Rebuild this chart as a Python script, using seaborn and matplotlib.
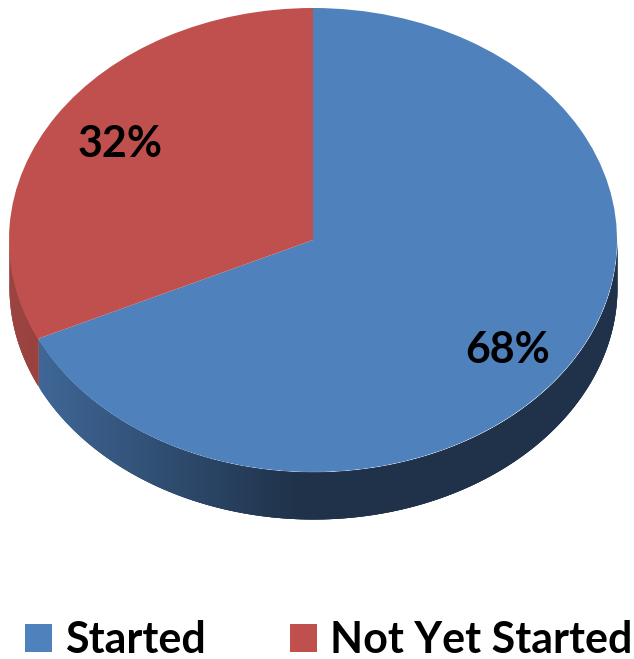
import matplotlib.pyplot as plt
import numpy as np
import seaborn as sns
from matplotlib.colors import to_rgb

sns.set_theme(style="white")
plt.rcParams["font.family"] = ["Lato", "DejaVu Sans"]

categories = ["Started", "Not Yet Started"]
values = [68, 32]
colors = ["#4F81BD", "#C0504D"]
label_offsets = [(-0.01, -0.06), (0.015, 0.0)]

W, H = 634, 659
CX, CY, RX, RY, DEPTH = 313, 240, 304, 232, 47


def side_shade(base, frac):
    # darkest towards the middle front, lighter at the left edge
    dark = np.array(to_rgb(base)) * 0.39
    light = np.array(to_rgb(base)) * 0.8
    return tuple(light + (dark - light) * min(frac, 1.0))


fig = plt.figure(figsize=(W / 100, H / 100), dpi=100)
ax = fig.add_axes([0, 0, 1, 1])

wedges, _, autotexts = ax.pie(
    values,
    colors=colors,
    startangle=90,
    counterclock=False,
    autopct="%d%%",
    pctdistance=0.77,
    textprops={"fontsize": 31, "fontweight": "bold", "color": "black"},
    wedgeprops={"zorder": 3, "linewidth": 0},
)
ax.set_aspect("auto")
ax.set_xlim(-CX / RX, (W - CX) / RX)
ax.set_ylim((CY - H) / RY, CY / RY)
ax.axis("off")

for t, (dx, dy) in zip(autotexts, label_offsets):
    x, y = t.get_position()
    t.set_position((x + dx, y + dy))
    t.set_zorder(5)

# side wall of the disc, strips overlap a little so no seams show
depth = DEPTH / RY
for wedge, color in zip(wedges, colors):
    a0, a1 = max(wedge.theta1, -180), min(wedge.theta2, 0)
    angles = np.radians(np.linspace(a0, a1, 300))
    for i in range(len(angles) - 1):
        seg = angles[i : i + 4]
        xs = np.cos(seg)
        ys = np.sin(seg)
        frac = (np.cos(seg[0]) + 0.91) / 0.85
        shade = side_shade(color, max(frac, 0.0))
        ax.fill_between(xs, ys, ys - depth, color=shade, lw=0, zorder=1)

ax.legend(
    wedges,
    categories,
    loc="lower left",
    bbox_to_anchor=(25 / W, -0.002),
    ncol=2,
    frameon=False,
    labelcolor="black",
    prop={"size": 31, "weight": "bold"},
    handlelength=0.63,
    handleheight=0.63,
    handletextpad=0.3,
    columnspacing=1.95,
    borderpad=0,
    borderaxespad=0,
)

fig.savefig("out.png", dpi=100)
plt.close(fig)
